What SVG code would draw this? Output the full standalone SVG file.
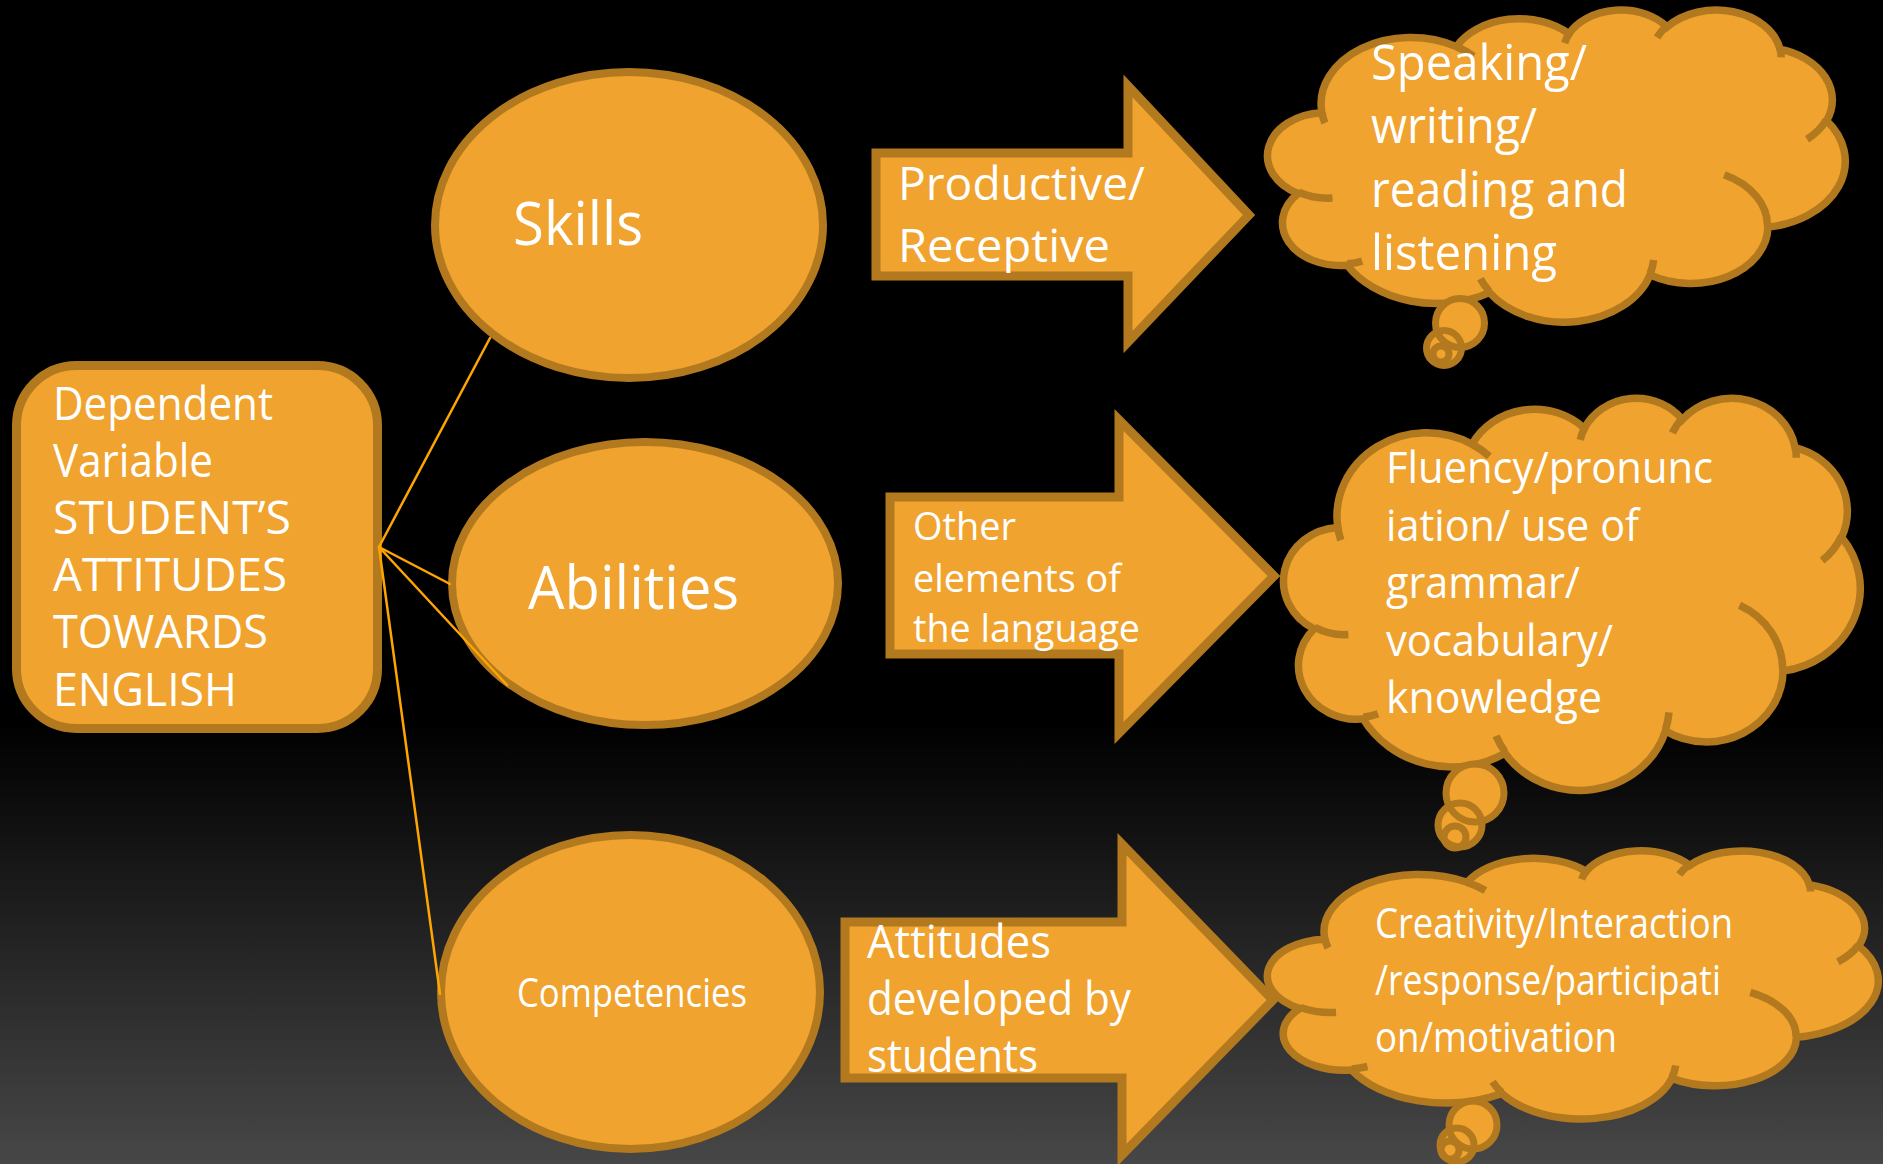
<svg xmlns="http://www.w3.org/2000/svg" xmlns:xlink="http://www.w3.org/1999/xlink" width="1883" height="1164" viewBox="0 0 1883 1164">
  <style>
    .shape { fill:#F0A32F; stroke:#B3791F; stroke-width:9; stroke-linejoin:miter; }
    .ell { fill:#F0A32F; stroke:#B3791F; stroke-width:8; }
    .cloud { fill:#F0A32F; stroke:#B3791F; stroke-width:7.5; }
    .crease { fill:none; stroke:#B3791F; stroke-width:7.5; }
    .tailfill { fill:#F0A32F; stroke:none; }
    .tailline { fill:none; stroke:#B3791F; stroke-width:7; }
    .conn { stroke:#FFA500; stroke-width:2.5; fill:none; stroke-linecap:round; }
    .txt { font-family:"Open Sans","Liberation Sans",sans-serif; fill:#FFFFFF; }
  </style>
  <defs>
    <linearGradient id="bg" x1="0" y1="0" x2="0" y2="1">
      <stop offset="0" stop-color="#000000"/>
      <stop offset="0.62" stop-color="#000000"/>
      <stop offset="1" stop-color="#474747"/>
    </linearGradient>
    <path id="cloudBody" vector-effect="non-scaling-stroke" d="M3900,14370 A6753,9190 0 0 1 14006,5203 A5333,7267 0 0 1 22457,3434 A4365,5945 0 0 1 29834,2482 A4857,6595 0 0 1 38319,5578 A5333,7273 0 0 1 41820,15461 A6775,9220 0 0 1 37405,30204 A5785,7867 0 0 1 28557,36814 A6752,9215 0 0 1 16482,39266 A7720,10543 0 0 1 5805,35472 A4360,5918 0 0 1 2113,25551 A4345,5945 0 0 1 3900,14370 Z"/>
    <path id="cloudCrease" vector-effect="non-scaling-stroke" fill="none" d="M4693,26177 A4345,5945 0 0 1 2160,25380 M6928,34899 A4360,5918 0 0 1 5820,35281 M16478,39090 A6752,9215 0 0 1 15810,37349 M28827,34751 A6752,9215 0 0 1 28560,36660 M34129,22954 A5785,7867 0 0 1 37381,30090 M41798,15354 A5333,7273 0 0 1 40348,18032 M38324,5426 A4857,6595 0 0 1 38400,6690 M29078,3952 A4857,6595 0 0 1 29820,2340 M22141,4720 A4365,5945 0 0 1 22500,3331 M14000,5192 A6753,9190 0 0 1 15301,6542 M4127,15789 A6753,9190 0 0 1 3900,14370"/>
  </defs>

  <rect x="0" y="0" width="1883" height="1164" fill="url(#bg)"/>

  <g id="dependent-variable">
    <rect class="shape" x="16.5" y="365.5" width="361" height="363" rx="60" ry="60"/>
    <text class="txt" font-size="45">
      <tspan x="53" y="420" textLength="220" lengthAdjust="spacingAndGlyphs">Dependent</tspan>
      <tspan x="53" y="477" textLength="160" lengthAdjust="spacingAndGlyphs">Variable</tspan>
      <tspan x="53" y="534" textLength="238" lengthAdjust="spacingAndGlyphs">STUDENT’S</tspan>
      <tspan x="53" y="591" textLength="234" lengthAdjust="spacingAndGlyphs">ATTITUDES</tspan>
      <tspan x="53" y="648" textLength="215" lengthAdjust="spacingAndGlyphs">TOWARDS</tspan>
      <tspan x="53" y="706" textLength="184" lengthAdjust="spacingAndGlyphs">ENGLISH</tspan>
    </text>
  </g>

  <g id="skills">
    <ellipse class="ell" cx="629" cy="225" rx="194" ry="153"/>
    <text class="txt" font-size="60" x="513" y="245" textLength="130" lengthAdjust="spacingAndGlyphs">Skills</text>
  </g>

  <g id="abilities">
    <ellipse class="ell" cx="645" cy="583.5" rx="193" ry="141.5"/>
    <text class="txt" font-size="60" x="528" y="609" textLength="211" lengthAdjust="spacingAndGlyphs">Abilities</text>
  </g>

  <g id="competencies">
    <ellipse class="ell" cx="630.5" cy="992" rx="189.5" ry="157"/>
    <text class="txt" font-size="40" x="517" y="1007" textLength="230" lengthAdjust="spacingAndGlyphs">Competencies</text>
  </g>

  <g id="arrow-productive">
    <path class="shape" d="M876,153 H1128 V86 L1249,215 L1128,342 V276 H876 Z"/>
    <text class="txt" font-size="46">
      <tspan x="898" y="200" textLength="247" lengthAdjust="spacingAndGlyphs">Productive/</tspan>
      <tspan x="898" y="262" textLength="212" lengthAdjust="spacingAndGlyphs">Receptive</tspan>
    </text>
  </g>

  <g id="arrow-other">
    <path class="shape" d="M890,497 H1119 V420 L1274,576 L1119,733 V654 H890 Z"/>
    <text class="txt" font-size="38">
      <tspan x="913" y="540" textLength="103" lengthAdjust="spacingAndGlyphs">Other</tspan>
      <tspan x="913" y="592" textLength="208" lengthAdjust="spacingAndGlyphs">elements of</tspan>
      <tspan x="913" y="642" textLength="227" lengthAdjust="spacingAndGlyphs">the language</tspan>
    </text>
  </g>

  <g id="arrow-attitudes">
    <path class="shape" d="M845,922 H1122 V844 L1273,1000 L1122,1155 V1078 H845 Z"/>
    <text class="txt" font-size="45">
      <tspan x="867" y="958" textLength="184" lengthAdjust="spacingAndGlyphs">Attitudes</tspan>
      <tspan x="867" y="1015" textLength="264" lengthAdjust="spacingAndGlyphs">developed by</tspan>
      <tspan x="867" y="1072" textLength="171" lengthAdjust="spacingAndGlyphs">students</tspan>
    </text>
  </g>

  <g id="cloud-skills">
    <g transform="translate(1270,9) scale(0.013310,0.0072222)">
      <use xlink:href="#cloudBody" class="cloud"/>
    </g>
    <circle class="tailfill" cx="1460" cy="323" r="24.5"/>
    <circle class="tailfill" cx="1444" cy="348" r="17.5"/>
    <circle class="tailfill" cx="1441" cy="354" r="8"/>
    <circle class="tailline" cx="1460" cy="323" r="24.5"/>
    <circle class="tailline" cx="1444" cy="348" r="17.5"/>
    <circle class="tailline" cx="1441" cy="354" r="8"/>
    <g transform="translate(1270,9) scale(0.013310,0.0072222)">
      <use xlink:href="#cloudCrease" class="crease"/>
    </g>
    <text class="txt" font-size="49">
      <tspan x="1371" y="80" textLength="216" lengthAdjust="spacingAndGlyphs">Speaking/</tspan>
      <tspan x="1371" y="143" textLength="166" lengthAdjust="spacingAndGlyphs">writing/</tspan>
      <tspan x="1371" y="207" textLength="257" lengthAdjust="spacingAndGlyphs">reading and</tspan>
      <tspan x="1371" y="270" textLength="186" lengthAdjust="spacingAndGlyphs">listening</tspan>
    </text>
  </g>

  <g id="cloud-abilities">
    <g transform="translate(1286,397) scale(0.013287,0.0090741)">
      <use xlink:href="#cloudBody" class="cloud"/>
    </g>
    <circle class="tailfill" cx="1475" cy="793" r="29"/>
    <circle class="tailfill" cx="1460" cy="825" r="22"/>
    <circle class="tailfill" cx="1455" cy="837" r="11"/>
    <circle class="tailline" cx="1475" cy="793" r="29"/>
    <circle class="tailline" cx="1460" cy="825" r="22"/>
    <circle class="tailline" cx="1455" cy="837" r="11"/>
    <g transform="translate(1286,397) scale(0.013287,0.0090741)">
      <use xlink:href="#cloudCrease" class="crease"/>
    </g>
    <text class="txt" font-size="43">
      <tspan x="1386" y="483" textLength="327" lengthAdjust="spacingAndGlyphs">Fluency/pronunc</tspan>
      <tspan x="1386" y="541" textLength="253" lengthAdjust="spacingAndGlyphs">iation/ use of</tspan>
      <tspan x="1386" y="598" textLength="194" lengthAdjust="spacingAndGlyphs">grammar/</tspan>
      <tspan x="1386" y="656" textLength="227" lengthAdjust="spacingAndGlyphs">vocabulary/</tspan>
      <tspan x="1386" y="713" textLength="216" lengthAdjust="spacingAndGlyphs">knowledge</tspan>
    </text>
  </g>

  <g id="cloud-competencies">
    <g transform="translate(1270,850) scale(0.014074,0.0062037)">
      <use xlink:href="#cloudBody" class="cloud"/>
    </g>
    <circle class="tailfill" cx="1473" cy="1125" r="24"/>
    <circle class="tailfill" cx="1457" cy="1145" r="17"/>
    <circle class="tailfill" cx="1450" cy="1150" r="9"/>
    <circle class="tailline" cx="1473" cy="1125" r="24"/>
    <circle class="tailline" cx="1457" cy="1145" r="17"/>
    <circle class="tailline" cx="1450" cy="1150" r="9"/>
    <g transform="translate(1270,850) scale(0.014074,0.0062037)">
      <use xlink:href="#cloudCrease" class="crease"/>
    </g>
    <text class="txt" font-size="42">
      <tspan x="1375" y="938" textLength="358" lengthAdjust="spacingAndGlyphs">Creativity/Interaction</tspan>
      <tspan x="1375" y="995" textLength="346" lengthAdjust="spacingAndGlyphs">/response/participati</tspan>
      <tspan x="1375" y="1052" textLength="242" lengthAdjust="spacingAndGlyphs">on/motivation</tspan>
    </text>
  </g>

  <g id="connectors">
    <line class="conn" x1="379" y1="547" x2="490" y2="338"/>
    <line class="conn" x1="379" y1="547" x2="450" y2="584"/>
    <line class="conn" x1="379" y1="547" x2="507" y2="685"/>
    <line class="conn" x1="379" y1="547" x2="440" y2="994"/>
  </g>
</svg>
